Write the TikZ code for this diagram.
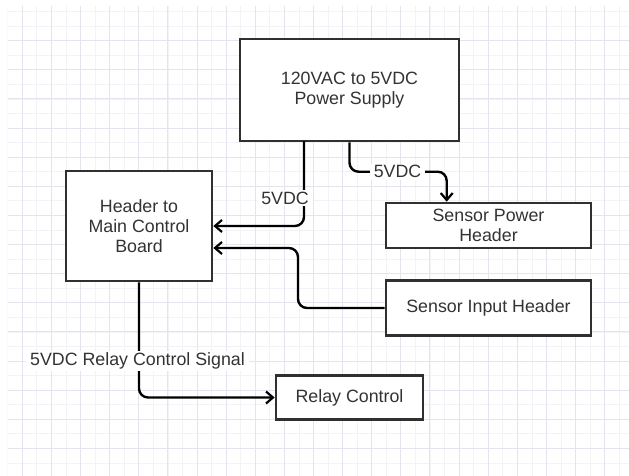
\documentclass[tikz,border=0pt]{standalone}
\usepackage{fontspec}
\setmainfont{Liberation Sans}
\usetikzlibrary{arrows.meta}
\definecolor{gmaj}{HTML}{E4E4EE}
\definecolor{gmin}{HTML}{F2F2F7}
\definecolor{boxc}{HTML}{303030}
\definecolor{txtc}{HTML}{333333}
\begin{document}
\begin{tikzpicture}[x=1pt,y=-1pt,
  blk/.style={draw=boxc, line width=2.6pt, fill=white, align=center, inner sep=0pt,
    text=txtc, font=\fontsize{17.8}{20}\selectfont},
  conn/.style={draw=black, line width=2.4pt, rounded corners=9pt,
    -{Straight Barb[length=7pt,width=12pt,line width=2.2pt]}},
  lbl/.style={fill=white, inner xsep=4pt, inner ysep=1.5pt, text=txtc, font=\fontsize{17.8}{20}\selectfont}]
\useasboundingbox (0,0) rectangle (629,476);
\fill[white] (0,0) rectangle (629,476);
\begin{scope}
  \clip (7.5,6) rectangle (629,476);
  \foreach \i in {0,...,43} \draw[gmin, line width=0.8pt] ({7.74+14.56*\i},6) -- ++(0,470);
  \foreach \i in {0,...,32} \draw[gmin, line width=0.8pt] (7.5,{11.6+14.56*\i}) -- ++(622,0);
  \foreach \i in {0,...,21} \draw[gmaj, line width=1pt] ({22.3+29.12*\i},6) -- ++(0,470);
  \foreach \i in {0,...,15} \draw[gmaj, line width=1pt] (7.5,{40.7+29.12*\i}) -- ++(622,0);
\end{scope}

\node[blk, minimum width=219pt, minimum height=102pt] (ps) at (349.5,90) {120VAC to 5VDC\\Power Supply};
\node[blk, minimum width=146pt, minimum height=110pt] (hdr) at (139,226) {Header to\\Main Control\\Board};
\node[blk, minimum width=205pt, minimum height=45pt] (sp) at (488.5,225.5) {Sensor Power\\Header};
\node[blk, minimum width=205pt, minimum height=55pt] (sin) at (488.5,308) {Sensor Input Header};
\node[blk, minimum width=147pt, minimum height=44pt] (rel) at (349.5,397.5) {Relay Control};

\coordinate (c1) at (304,141);
\coordinate (c2) at (298,248);
\coordinate (c3) at (446.7,171.7);

\draw[conn] (c1) |- (hdr.east);
\draw[conn] (sin.west) -| (c2) -- (c2 -| hdr.east);
\draw[conn] (ps.south) |- (c3) -- (c3 |- sp.north);
\draw[conn] (hdr.south) |- (rel.west);

\node[lbl] (l1) at (285,198) {5VDC};
\node[lbl] (l2) at (397.5,171.7) {5VDC};
\node[lbl] (l3) at (137.5,361) {5VDC Relay Control Signal};
\end{tikzpicture}
\end{document}
